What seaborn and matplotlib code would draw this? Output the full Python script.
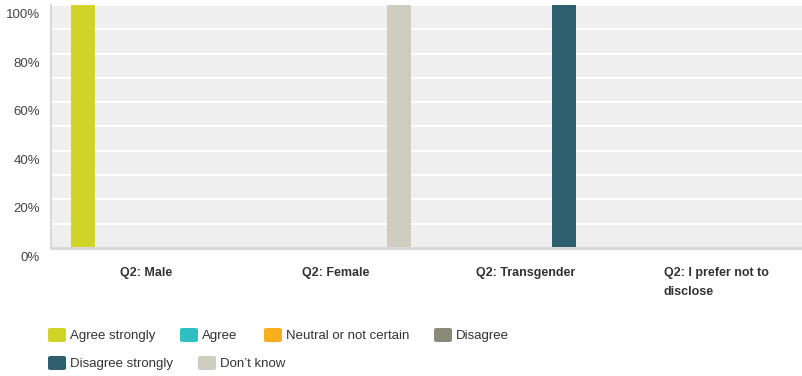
import matplotlib
matplotlib.use("Agg")
import matplotlib.pyplot as plt
from matplotlib.patches import FancyBboxPatch
from matplotlib.ticker import FixedLocator, FuncFormatter
import matplotlib.transforms as mtransforms
import pandas as pd
import seaborn as sns

categories = ["Q2: Male", "Q2: Female", "Q2: Transgender", "Q2: I prefer not to\ndisclose"]
responses = ["Agree strongly", "Agree", "Neutral or not certain", "Disagree",
             "Disagree strongly", "Don\u2019t know"]
colors = ["#cfd427", "#2fbfc1", "#f7ae1f", "#8a8a78", "#2d5f6e", "#cfcdbf"]

# share of respondents (%) per category, one list per response
agree_strongly = [100, 0, 0, 0]
agree = [0, 0, 0, 0]
neutral = [0, 0, 0, 0]
disagree = [0, 0, 0, 0]
disagree_strongly = [0, 0, 100, 0]
dont_know = [0, 100, 0, 0]

series = [agree_strongly, agree, neutral, disagree, disagree_strongly, dont_know]
rows = []
for resp, vals in zip(responses, series):
    for cat, v in zip(categories, vals):
        rows.append({"category": cat, "response": resp, "value": v})
df = pd.DataFrame(rows)

sns.set_style("white")
plt.rcParams["font.family"] = ["Liberation Sans", "DejaVu Sans"]

W, H = 802, 376
fig = plt.figure(figsize=(W / 100, H / 100), dpi=100)
ax = fig.add_axes([51 / W, 1 - 248 / H, 760 / W, 243 / H])
ax.set_facecolor("#efefef")

sns.barplot(data=df, x="category", y="value", hue="response", order=categories,
            hue_order=responses, palette=colors, width=0.8, gap=0.05,
            saturation=1, legend=False, ax=ax, linewidth=0, errorbar=None)

ax.set_xlim(-0.5, len(categories) - 0.5)
ax.set_ylim(0, 100)
ax.yaxis.set_major_locator(FixedLocator([0, 20, 40, 60, 80, 100]))
ax.yaxis.set_minor_locator(FixedLocator([10, 30, 50, 70, 90]))
ax.yaxis.set_major_formatter(FuncFormatter(lambda v, _: f"{int(v)}%"))
ax.grid(True, axis="y", which="both", color="white", linewidth=1.5)
ax.set_axisbelow(True)
ax.set_xlabel("")
ax.set_ylabel("")

for s in ["top", "right"]:
    ax.spines[s].set_visible(False)
ax.spines["left"].set_color("#d9d9d9")
ax.spines["left"].set_linewidth(1.5)
ax.spines["bottom"].set_color("#d9d9d9")
ax.spines["bottom"].set_linewidth(2.2)

ax.tick_params(axis="y", which="both", length=0, pad=8, labelsize=9.5, labelcolor="#444444")
ax.tick_params(axis="x", length=0, pad=14, labelsize=9, labelcolor="#333333")
shift = mtransforms.ScaledTranslation(0, -8.5 / 100, fig.dpi_scale_trans)
for lab in ax.get_yticklabels():
    lab.set_transform(lab.get_transform() + shift)
for lab in ax.get_xticklabels():
    lab.set_fontweight("bold")
    lab.set_multialignment("left")
    lab.set_linespacing(1.75)

# legend laid out in two rows
legend_pos = [(48, 335), (180, 335), (264, 335), (434, 335), (48, 363), (198, 363)]
for (x, y), resp, col in zip(legend_pos, responses, colors):
    box = FancyBboxPatch(((x) / W, 1 - (y + 7) / H), 18 / W, 14 / H,
                         boxstyle="round,pad=0,rounding_size=0.004",
                         transform=fig.transFigure, facecolor=col, edgecolor="none")
    fig.patches.append(box)
    fig.text((x + 22) / W, 1 - (y + 1) / H, resp, fontsize=9.5, color="#333333",
             va="center", ha="left")

fig.savefig("out.png", dpi=100)
